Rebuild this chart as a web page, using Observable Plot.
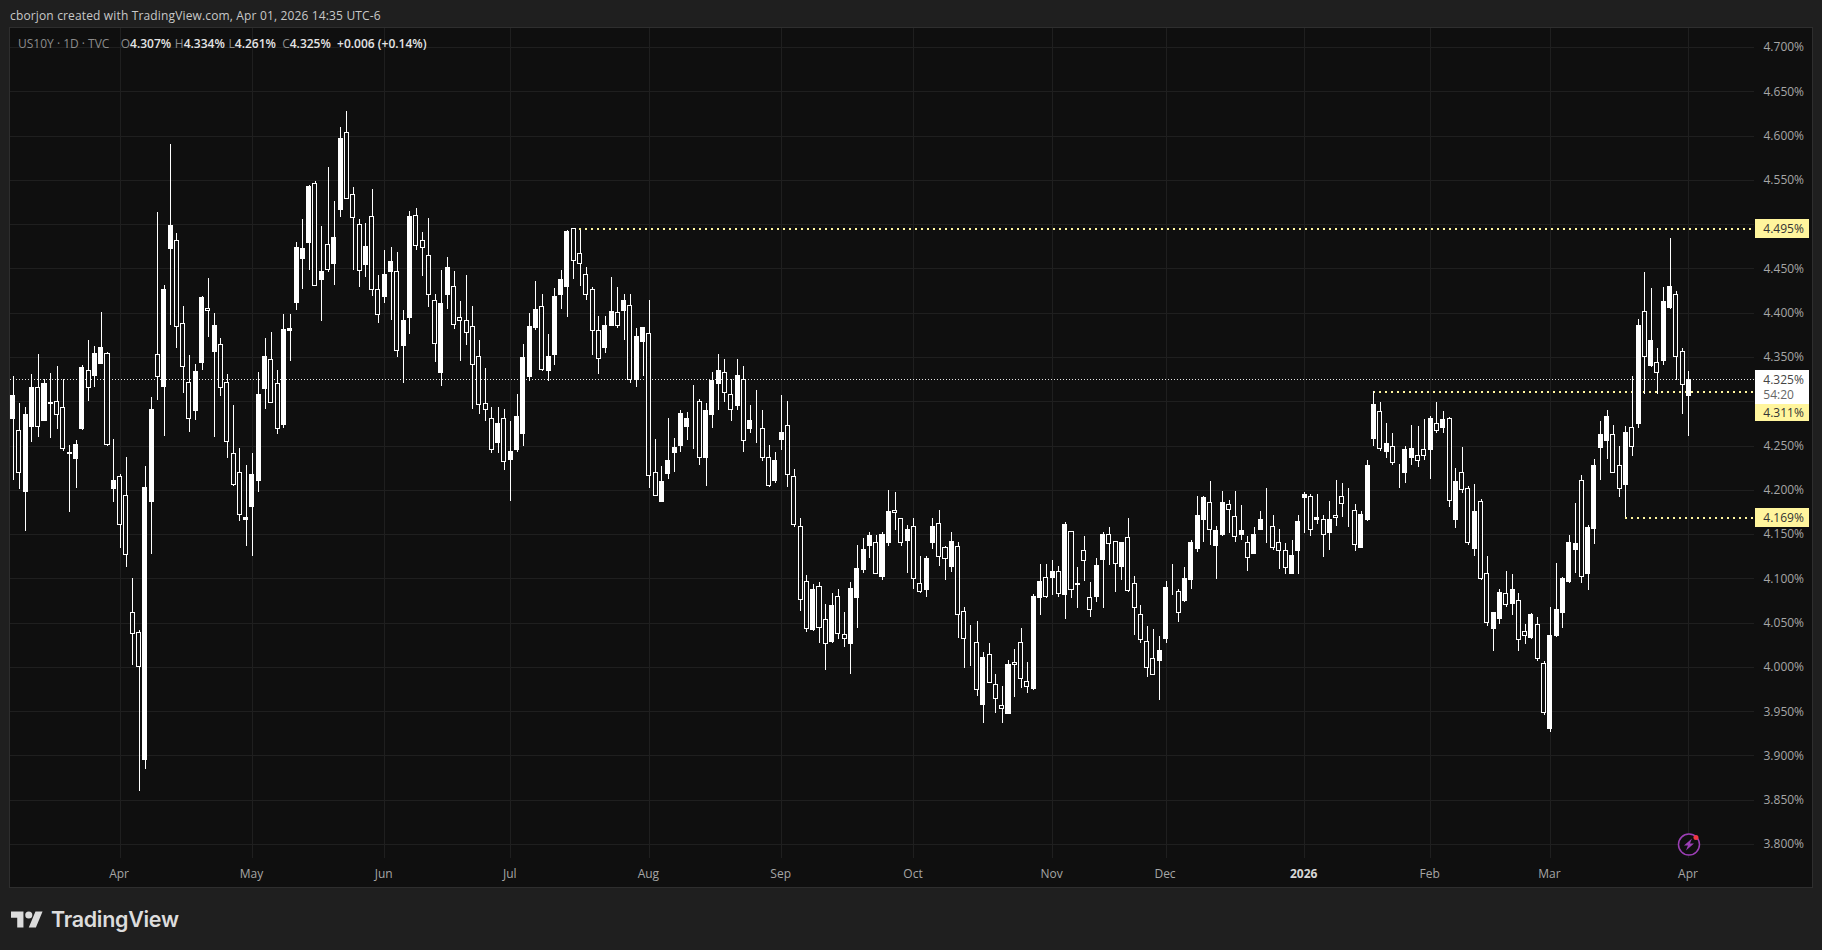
<!DOCTYPE html>
<html>
<head>
<meta charset="utf-8">
<script src="https://cdn.jsdelivr.net/npm/d3@7"></script>
<script src="https://cdn.jsdelivr.net/npm/@observablehq/plot@0.6"></script>
<style>
html,body{margin:0;padding:0;background:#1f1f1f;width:1822px;height:950px;overflow:hidden;font-family:"Open Sans",sans-serif;}
#head{height:28px;line-height:31px;padding-left:10px;font-size:12px;letter-spacing:.15px;color:#c8c8c8;box-sizing:border-box;}
#wrap{position:relative;margin-left:10px;width:1802px;height:859px;}
#wrap svg{display:block;}
#wrap:after{content:"";position:absolute;inset:-1px;border:1px solid #2e2e2e;pointer-events:none;}
#legend{position:absolute;left:8px;top:7px;font-size:12px;line-height:18px;color:#8c8c8c;white-space:pre;}
#legend b{font-weight:600;color:#e4e4e4;}
#legend i{font-style:normal;}
#foot{position:relative;height:63px;}
#foot svg{position:absolute;left:11px;top:24px;}
#foot div{position:absolute;left:51px;top:17px;font:600 21.5px/30px Inter,sans-serif;color:#dcdcdc;letter-spacing:-.3px;}
</style>
</head>
<body>
<div id="head">cborjon created with TradingView.com, Apr 01, 2026 14:35 UTC-6</div>
<div id="wrap"><div id="legend">US10Y · 1D · TVC  <i style="margin-left:5px">O</i><b>4.307%</b>  <i style="margin-left:-2.5px">H</i><b>4.334%</b>  <i style="margin-left:-2.5px">L</i><b>4.261%</b>  C<b>4.325%</b>  <b>+0.006 (+0.14%)</b></div></div>
<div id="foot"><svg width="32" height="17" viewBox="0 4 36 18"><path fill="#dcdcdc" d="M14 22H7V11H0V4h14v18zM28 22h-8l7.5-18h8L28 22z"/><circle fill="#dcdcdc" cx="20" cy="8" r="4"/></svg><div>TradingView</div></div>
<script>
const opens = [
4.280,4.267,4.198,4.271,4.315,4.278,4.297,4.300,4.293,4.241,
4.235,4.269,4.335,4.329,4.343,4.354,4.202,4.215,4.194,4.062,
4.039,3.896,4.187,4.353,4.317,4.473,4.481,4.388,4.321,4.289,
4.344,4.405,4.356,4.364,4.321,4.241,4.219,4.167,4.181,4.211,
4.314,4.347,4.320,4.274,4.380,4.412,4.461,4.479,4.546,4.437,
4.477,4.455,4.517,4.604,4.533,4.500,4.454,4.509,4.426,4.418,
4.447,4.447,4.363,4.394,4.510,4.481,4.465,4.414,4.332,4.420,
4.430,4.395,4.391,4.384,4.351,4.297,4.280,4.253,4.281,4.234,
4.245,4.264,4.328,4.383,4.407,4.335,4.353,4.420,4.430,4.495,
4.467,4.443,4.426,4.380,4.361,4.385,4.400,4.403,4.408,4.324,
4.368,4.377,4.219,4.187,4.218,4.242,4.250,4.272,4.290,4.300,
4.237,4.285,4.320,4.333,4.308,4.295,4.325,4.269,4.265,4.269,
4.237,4.210,4.257,4.273,4.215,4.158,4.096,4.042,4.091,4.053,
4.029,4.079,4.037,4.027,4.078,4.110,4.137,4.141,4.102,4.140,
4.177,4.168,4.143,4.158,4.094,4.087,4.141,4.162,4.135,4.113,
4.136,4.063,4.028,4.028,3.958,4.014,3.980,3.957,3.947,4.005,
4.028,3.983,3.976,4.078,4.101,4.101,4.108,4.082,4.153,4.093,
4.131,4.078,4.080,4.121,4.150,4.142,4.113,4.146,4.094,4.059,
4.029,4.009,4.007,4.032,4.090,4.085,4.075,4.099,4.134,4.166,
4.186,4.137,4.150,4.183,4.170,4.150,4.140,4.128,4.155,4.167,
4.159,4.140,4.131,4.105,4.131,4.191,4.192,4.166,4.167,4.152,
4.171,4.192,4.176,4.177,4.135,4.166,4.258,4.288,4.243,4.249,
4.213,4.219,4.236,4.239,4.246,4.246,4.275,4.270,4.281,4.167,
4.220,4.201,4.134,4.187,4.105,4.043,4.055,4.083,4.072,4.075,
4.040,4.033,4.048,4.004,3.931,4.035,4.062,4.096,4.133,4.211,
4.106,4.156,4.248,4.256,4.262,4.227,4.206,4.270,4.275,4.401,
4.340,4.344,4.346,4.406,4.421,4.356,4.307];
const highs = [
4.329,4.298,4.293,4.331,4.353,4.325,4.332,4.340,4.325,4.251,
4.256,4.341,4.369,4.362,4.401,4.356,4.257,4.218,4.237,4.100,
4.042,4.227,4.305,4.514,4.431,4.591,4.490,4.408,4.352,4.342,
4.419,4.439,4.400,4.371,4.331,4.296,4.247,4.228,4.241,4.333,
4.371,4.378,4.335,4.399,4.399,4.480,4.506,4.544,4.549,4.498,
4.565,4.526,4.610,4.628,4.542,4.506,4.501,4.540,4.443,4.471,
4.474,4.469,4.403,4.515,4.518,4.491,4.507,4.421,4.448,4.463,
4.447,4.413,4.443,4.408,4.369,4.337,4.294,4.294,4.291,4.278,
4.308,4.365,4.400,4.436,4.421,4.376,4.428,4.448,4.493,4.496,
4.493,4.452,4.429,4.396,4.396,4.440,4.429,4.421,4.421,4.383,
4.383,4.414,4.257,4.227,4.281,4.259,4.290,4.288,4.318,4.303,
4.298,4.333,4.353,4.348,4.325,4.348,4.340,4.296,4.313,4.290,
4.251,4.243,4.307,4.300,4.224,4.168,4.104,4.094,4.096,4.071,
4.084,4.088,4.062,4.096,4.138,4.146,4.152,4.149,4.152,4.200,
4.198,4.168,4.160,4.168,4.125,4.125,4.168,4.177,4.137,4.152,
4.141,4.068,4.047,4.052,4.017,4.027,3.992,3.979,4.008,4.020,
4.044,4.005,4.082,4.116,4.116,4.121,4.114,4.164,4.153,4.113,
4.148,4.096,4.123,4.152,4.158,4.142,4.141,4.168,4.103,4.070,
4.046,4.043,4.035,4.097,4.116,4.088,4.113,4.143,4.193,4.193,
4.210,4.159,4.199,4.189,4.199,4.183,4.148,4.158,4.176,4.202,
4.172,4.156,4.140,4.143,4.172,4.198,4.195,4.195,4.172,4.187,
4.211,4.208,4.202,4.184,4.176,4.234,4.311,4.299,4.275,4.264,
4.229,4.250,4.273,4.272,4.280,4.283,4.299,4.289,4.282,4.225,
4.248,4.204,4.207,4.190,4.125,4.062,4.088,4.108,4.105,4.084,
4.049,4.061,4.056,4.007,4.068,4.117,4.101,4.149,4.185,4.217,
4.160,4.235,4.278,4.290,4.273,4.250,4.272,4.329,4.393,4.446,
4.428,4.360,4.429,4.484,4.425,4.360,4.334];
const lows = [
4.211,4.201,4.153,4.254,4.260,4.278,4.259,4.269,4.244,4.175,
4.202,4.268,4.300,4.316,4.342,4.250,4.186,4.134,4.113,4.002,
3.860,3.885,4.127,4.301,4.261,4.386,4.360,4.309,4.265,4.279,
4.335,4.372,4.260,4.306,4.236,4.204,4.165,4.136,4.125,4.197,
4.291,4.298,4.263,4.270,4.346,4.403,4.427,4.448,4.430,4.391,
4.446,4.431,4.508,4.528,4.448,4.429,4.440,4.419,4.388,4.411,
4.392,4.350,4.321,4.376,4.471,4.441,4.406,4.344,4.317,4.404,
4.382,4.345,4.364,4.291,4.286,4.278,4.241,4.241,4.222,4.187,
4.243,4.250,4.323,4.380,4.334,4.323,4.341,4.404,4.395,4.438,
4.430,4.414,4.352,4.331,4.355,4.385,4.383,4.369,4.321,4.316,
4.329,4.202,4.193,4.186,4.212,4.220,4.243,4.256,4.246,4.228,
4.204,4.270,4.290,4.299,4.278,4.290,4.243,4.264,4.253,4.233,
4.203,4.208,4.245,4.203,4.158,4.063,4.039,4.041,4.027,3.997,
4.027,4.031,4.023,3.992,4.044,4.106,4.123,4.105,4.098,4.136,
4.155,4.136,4.106,4.088,4.084,4.079,4.133,4.114,4.098,4.107,
4.033,3.999,4.001,3.967,3.937,3.982,3.948,3.937,3.947,3.966,
3.976,3.971,3.974,4.059,4.078,4.081,4.079,4.054,4.078,4.067,
4.097,4.056,4.073,4.066,4.115,4.085,4.098,4.085,4.036,4.027,
3.989,3.991,3.963,4.027,4.081,4.051,4.073,4.088,4.130,4.141,
4.138,4.099,4.148,4.151,4.141,4.143,4.108,4.127,4.155,4.140,
4.132,4.111,4.105,4.105,4.105,4.151,4.148,4.161,4.124,4.132,
4.159,4.169,4.158,4.131,4.134,4.165,4.249,4.244,4.236,4.228,
4.202,4.208,4.228,4.226,4.234,4.212,4.264,4.264,4.181,4.157,
4.196,4.138,4.125,4.098,4.046,4.018,4.048,4.068,4.059,4.018,
4.026,4.032,4.007,3.946,3.927,4.034,4.044,4.095,4.106,4.095,
4.087,4.139,4.211,4.235,4.219,4.192,4.169,4.238,4.270,4.308,
4.339,4.308,4.341,4.404,4.324,4.286,4.261];
const closes = [
4.306,4.220,4.285,4.316,4.271,4.320,4.299,4.285,4.247,4.242,
4.251,4.338,4.316,4.354,4.361,4.251,4.211,4.161,4.127,4.038,
4.000,4.203,4.291,4.328,4.426,4.498,4.384,4.339,4.281,4.334,
4.417,4.402,4.386,4.316,4.255,4.206,4.172,4.169,4.217,4.308,
4.350,4.299,4.269,4.381,4.382,4.474,4.472,4.543,4.431,4.446,
4.449,4.485,4.597,4.529,4.508,4.448,4.475,4.426,4.398,4.443,
4.458,4.357,4.391,4.509,4.476,4.474,4.421,4.365,4.410,4.451,
4.387,4.391,4.378,4.341,4.296,4.291,4.246,4.275,4.232,4.243,
4.283,4.349,4.384,4.404,4.336,4.351,4.418,4.438,4.492,4.459,
4.455,4.420,4.380,4.348,4.385,4.401,4.385,4.414,4.324,4.373,
4.383,4.216,4.193,4.209,4.233,4.248,4.286,4.280,4.290,4.236,
4.290,4.323,4.335,4.310,4.291,4.329,4.256,4.278,4.265,4.237,
4.205,4.233,4.265,4.217,4.161,4.076,4.043,4.087,4.044,4.026,
4.069,4.038,4.032,4.088,4.111,4.133,4.148,4.105,4.149,4.176,
4.174,4.140,4.155,4.100,4.085,4.122,4.158,4.125,4.122,4.142,
4.059,4.032,4.028,3.975,4.011,3.982,3.964,3.953,4.003,4.003,
3.987,3.978,4.079,4.097,4.080,4.108,4.083,4.161,4.087,4.094,
4.120,4.065,4.115,4.149,4.139,4.117,4.140,4.086,4.067,4.031,
3.999,3.991,4.018,4.090,4.090,4.062,4.100,4.140,4.171,4.191,
4.155,4.154,4.186,4.178,4.147,4.154,4.123,4.149,4.166,4.167,
4.135,4.131,4.112,4.126,4.164,4.195,4.155,4.169,4.149,4.167,
4.169,4.185,4.176,4.138,4.172,4.228,4.296,4.247,4.252,4.231,
4.213,4.246,4.247,4.233,4.239,4.281,4.267,4.279,4.188,4.209,
4.200,4.140,4.175,4.100,4.050,4.062,4.084,4.070,4.087,4.031,
4.036,4.059,4.010,3.948,4.036,4.065,4.100,4.141,4.139,4.102,
4.157,4.228,4.262,4.283,4.219,4.201,4.265,4.249,4.385,4.350,
4.369,4.333,4.413,4.429,4.351,4.319,4.325];

const monthBars   = [17,38,59,79,101,122,143,165,183,205,225,244,266];
const monthLabels = ["Apr","May","Jun","Jul","Aug","Sep","Oct","Nov","Dec","2026","Feb","Mar","Apr"];
const gridPrices  = d3.range(0,19).map(k => +(3.8 + k*0.05).toFixed(2));
const hiddenAxisPrices = [4.5, 4.3];
const lastPrice = 4.325;
const levelPrices = [4.495, 4.311, 4.169];
const levelStartBars = [89, 216, 256];
const levelTagCentres = [4.495, 4.2875, 4.169];

const bg = "#0f0f0f", white = "#ffffff", gridColor = "#1f1f1f", axisColor = "#a6a6a6", yellow = "#fff59d";
const bars = d3.range(opens.length);
const up = bars.filter(i => closes[i] >= opens[i]);
const down = bars.filter(i => closes[i] < opens[i]);
const halfBar = 0.32, xEnd = 276.4, tagL = 276.55, tagR = 285.1, tagTextX = 277.8;
const crisp = {shapeRendering: "crispEdges"};
const monthText = i => monthLabels[monthBars.indexOf(i)];

const chart = Plot.plot({
  width: 1802, height: 859,
  marginLeft: 0, marginRight: 58, marginTop: 0, marginBottom: 29,
  style: {background: bg, fontFamily: '"Open Sans",sans-serif', fontSize: "12px", overflow: "visible"},
  x: {type: "linear", domain: [-0.397, xEnd], axis: null},
  y: {type: "linear", domain: [3.78424, 4.72145], axis: null},
  marks: [
    Plot.ruleY(gridPrices, {stroke: gridColor, strokeWidth: 1, strokeOpacity: 1, ...crisp}),
    Plot.ruleX(monthBars, {stroke: gridColor, strokeWidth: 1, strokeOpacity: 1, ...crisp}),
    Plot.ruleY([lastPrice], {x1: -0.397, x2: xEnd, stroke: "#e6e6e6", strokeWidth: 1, strokeDasharray: "1 2", ...crisp}),
    Plot.ruleY(levelPrices, {y: d => d, x1: (d,i) => levelStartBars[i], x2: xEnd, stroke: yellow, strokeWidth: 2, strokeDasharray: "2 4", ...crisp}),
    Plot.ruleX(bars, {x: i => i, y1: i => lows[i], y2: i => highs[i], stroke: white, strokeWidth: 1, ...crisp}),
    Plot.rect(up, {x1: i => i-halfBar, x2: i => i+halfBar, y1: i => opens[i], y2: i => closes[i], fill: white, stroke: white, strokeWidth: 1, ...crisp}),
    Plot.rect(down, {x1: i => i-halfBar, x2: i => i+halfBar, y1: i => opens[i], y2: i => closes[i], fill: bg, stroke: white, strokeWidth: 1, ...crisp}),
    // y axis
    Plot.axisY(gridPrices.filter(p => !hiddenAxisPrices.includes(p)), {anchor: "right", tickSize: 0, tickPadding: 9, tickFormat: d => d.toFixed(3) + "%", fill: axisColor, label: null, fontSize: 12}),
    // x axis
    Plot.axisX(monthBars.filter(i => monthText(i) !== "2026"), {anchor: "bottom", tickSize: 0, tickPadding: 11, dx: -1, tickFormat: monthText, fill: axisColor, label: null, fontSize: 12}),
    Plot.axisX(monthBars.filter(i => monthText(i) === "2026"), {anchor: "bottom", tickSize: 0, tickPadding: 11, dx: -1, tickFormat: monthText, fill: "#d8d8d8", fontWeight: 700, label: null, fontSize: 12}),
    // price tags
    Plot.rect([lastPrice], {x1: tagL, x2: tagR, y1: 4.2969, y2: 4.3353, fill: white, ...crisp}),
    Plot.text([lastPrice], {x: tagTextX, y: d => d, dy: 1, text: d => d.toFixed(3) + "%", textAnchor: "start", fill: "#444444", fontSize: 12}),
    Plot.text(["54:20"], {x: tagTextX, y: 4.3079, text: d => d, textAnchor: "start", fill: "#666666", fontSize: 12}),
    Plot.rect(levelTagCentres, {x1: tagL, x2: tagR, y1: (d,i) => d - (i===1 ? 0.0096 : 0.0107), y2: (d,i) => d + (i===1 ? 0.0096 : 0.0107), fill: yellow, ...crisp}),
    Plot.text(levelTagCentres, {x: tagTextX, y: d => d, text: (d,i) => levelPrices[i].toFixed(3) + "%", textAnchor: "start", fill: "#333333", fontSize: 12}),
    // flash badge
    Plot.dot([266], {x: d => d, y: 3.8, r: 10.5, fill: bg, stroke: "#9c3fb5", strokeWidth: 1.5}),
    Plot.dot([266], {x: d => d, y: 3.8, fill: "#9c3fb5", symbol: {draw(c){c.moveTo(3,-6);c.lineTo(-5,1);c.lineTo(-1,1);c.lineTo(-3,6);c.lineTo(5,-1);c.lineTo(1,-1);c.closePath();}}}),
    Plot.dot([266], {x: d => d, y: 3.8, r: 2.5, dx: 7, dy: -7, fill: "#f23645"})
  ]
});
document.getElementById("wrap").prepend(chart);
</script>
</body>
</html>
